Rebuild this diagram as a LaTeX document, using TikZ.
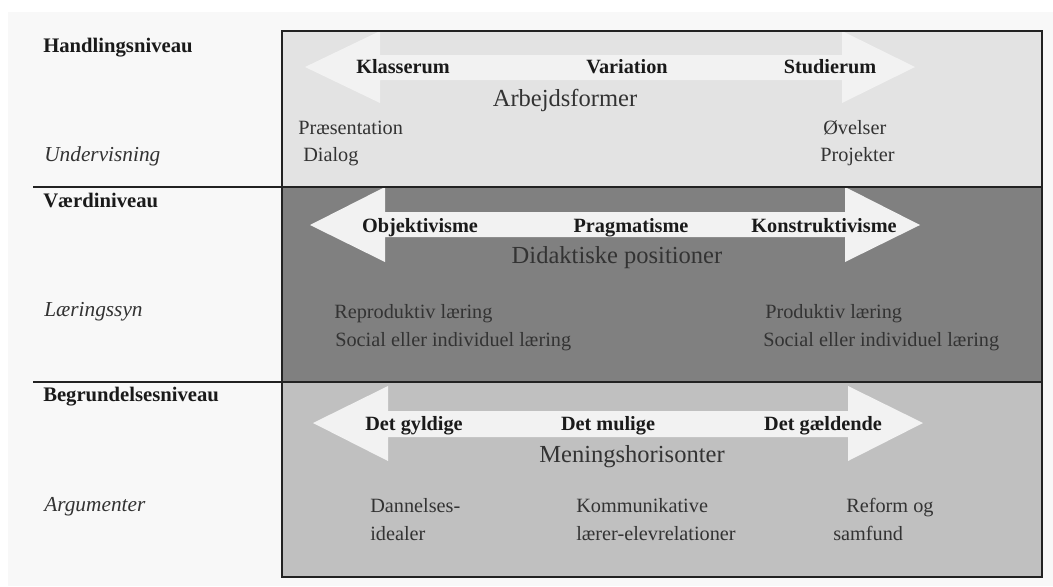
\documentclass[tikz,border=0pt]{standalone}
\usepackage{fontspec}
\setmainfont{Liberation Serif}
\definecolor{bgc}{HTML}{F8F8F8}
\definecolor{pone}{HTML}{E3E3E3}
\definecolor{ptwo}{HTML}{808080}
\definecolor{pthree}{HTML}{C0C0C0}
\definecolor{arrowc}{HTML}{F2F2F2}
\definecolor{inkc}{HTML}{1A1A1A}
\definecolor{softc}{HTML}{333333}
\definecolor{linec}{HTML}{222222}
\tikzset{
  lvl/.style={anchor=base west, inner sep=0pt, text=inkc, font=\fontsize{15.5}{18}\bfseries},
  sub/.style={anchor=base west, inner sep=0pt, text=softc, font=\fontsize{16}{18}\itshape},
  pole/.style={anchor=base, inner sep=0pt, text=inkc, font=\fontsize{15.2}{18}\bfseries},
  axis/.style={anchor=base, inner sep=0pt, text=softc, font=\fontsize{18.4}{22}\selectfont},
  item/.style={anchor=base west, inner sep=0pt, text=softc, font=\fontsize{15.2}{18}\selectfont},
  bigarrow/.style={fill=arrowc, draw=none},
  sepline/.style={draw=linec, line width=1.3pt},
  frame/.style={draw=linec, line width=1.6pt}
}
\begin{document}
\begin{tikzpicture}[x=0.75pt,y=-0.75pt]
\useasboundingbox (0,0) rectangle (1053,586);
\fill[white] (0,0) rectangle (1053,586);
\fill[bgc] (8,12) rectangle (1053,586);
% panels
\fill[pone] (282,31) rectangle (1042,187);
\fill[ptwo] (282,187) rectangle (1042,382);
\fill[pthree] (282,382) rectangle (1042,577);
% double arrows
\fill[bigarrow] (305,67) -- (380,31) -- (380,55) -- (842,55) -- (842,31) -- (915,67) -- (842,103) -- (842,80) -- (380,80) -- (380,103) -- cycle;
\fill[bigarrow] (310,225) -- (385,187) -- (385,212) -- (845,212) -- (845,187) -- (920,225) -- (845,262) -- (845,237) -- (385,237) -- (385,262) -- cycle;
\fill[bigarrow] (313,423) -- (388,386) -- (388,411) -- (848,411) -- (848,386) -- (923,423) -- (848,461) -- (848,437) -- (388,437) -- (388,461) -- cycle;
% lines
\coordinate (s1a) at (33,187); \coordinate (s1b) at (1042,187);
\coordinate (s2a) at (33,382); \coordinate (s2b) at (1042,382);
\draw[sepline] (s1a) -- (s1b);
\draw[sepline] (s2a) -- (s2b);
\draw[frame] (282,31) rectangle (1042,577);
% left labels
\node[lvl] (h1) at (43,52) {Handlingsniveau};
\node[sub] (u1) at (44,161) {Undervisning};
\node[lvl] (h2) at (43,207) {Værdiniveau};
\node[sub] (u2) at (44,316) {Læringssyn};
\node[lvl] (h3) at (43,401) {Begrundelsesniveau};
\node[sub] (u3) at (44,511) {Argumenter};
% panel 1
\node[pole] (k1) at (403,73) {Klasserum};
\node[pole] (v1) at (627,73) {Variation};
\node[pole] (st1) at (830,73) {Studierum};
\node[axis] (a1) at (565,106) {Arbejdsformer};
\node[item] (p1) at (298,134) {Præsentation};
\node[item] (d1) at (303,161) {Dialog};
\node[item] (o1) at (823,134) {Øvelser};
\node[item] (pr1) at (820,161) {Projekter};
% panel 2
\node[pole] (k2) at (420,232) {Objektivisme};
\node[pole] (v2) at (631,232) {Pragmatisme};
\node[pole] (st2) at (824,232) {Konstruktivisme};
\node[axis] (a2) at (617,263) {Didaktiske positioner};
\node[item] (r2) at (334,318) {Reproduktiv læring};
\node[item] (s2) at (335,346) {Social eller individuel læring};
\node[item] (pd2) at (765,318) {Produktiv læring};
\node[item] (sr2) at (763,346) {Social eller individuel læring};
% panel 3
\node[pole] (k3) at (414,430) {Det gyldige};
\node[pole] (v3) at (608,430) {Det mulige};
\node[pole] (st3) at (823,430) {Det gældende};
\node[axis] (a3) at (632,462) {Meningshorisonter};
\node[item] (dn3) at (370,512) {Dannelses-};
\node[item] (id3) at (370,540) {idealer};
\node[item] (km3) at (576,512) {Kommunikative};
\node[item] (le3) at (576,540) {lærer-elevrelationer};
\node[item] (rf3) at (846,512) {Reform og};
\node[item] (sf3) at (833,540) {samfund};
\end{tikzpicture}
\end{document}
